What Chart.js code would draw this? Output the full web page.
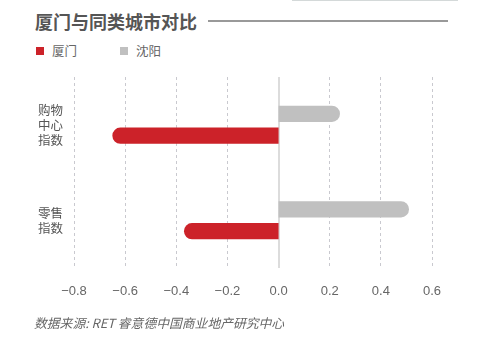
<!DOCTYPE html>
<html>
<head>
<meta charset="utf-8">
<script src="https://cdn.jsdelivr.net/npm/chart.js@4.4.1/dist/chart.umd.min.js"></script>
<style>
  html, body { margin: 0; padding: 0; background: #fff; }
  #wrap { position: relative; width: 488px; height: 348px; overflow: hidden; font-family: "Noto Sans CJK SC", sans-serif; }
  #topline { position: absolute; left: 292px; top: 0; width: 166px; height: 1px; background: #d4d9d9; }
  #title { position: absolute; left: 35px; top: 9px; font-size: 18px; font-weight: bold; color: #555; line-height: 24px; white-space: nowrap; }
  #titleline { position: absolute; left: 208px; top: 20px; width: 240px; height: 1.5px; background: #999; }
  #legend { position: absolute; left: 36px; top: 42px; display: flex; font-size: 12.5px; color: #666; line-height: 18px; }
  .item { display: flex; align-items: center; width: 84px; }
  .box { width: 8px; height: 8px; margin-right: 8px; }
  #source { position: absolute; left: 34px; top: 313px; font-size: 12.8px; font-style: italic; color: #666; white-space: nowrap; }
  #chart { position: absolute; left: 0; top: 0; }
</style>
</head>
<body>
<div id="wrap">
  <div id="topline"></div>
  <div id="title">厦门与同类城市对比</div>
  <div id="titleline"></div>
  <div id="legend"></div>
  <canvas id="chart" width="488" height="348"></canvas>
  <div id="source">数据来源: RET 睿意德中国商业地产研究中心</div>
</div>
<script>
// categories (multi-line labels)
const categorias = [['购物', '中心', '指数'], ['零售', '指数']];
// series
const xiamen = [-0.65, -0.37];
const shenyang = [0.24, 0.51];
const ciudades = ['厦门', '沈阳'];
const colores = ['#cc2229', '#c0c0c0'];
// x axis
const xMin = -0.8;
const xMax = 0.6;
const xPaso = 0.2;

// leyenda html
const leyenda = document.getElementById('legend');
ciudades.forEach(function (nombre, i) {
  const item = document.createElement('div');
  item.className = 'item';
  item.innerHTML = '<span class="box" style="background:' + colores[i] + '"></span>' + nombre;
  leyenda.appendChild(item);
});

const ctx = document.getElementById('chart');

const grafico = new Chart(ctx, {
  type: 'bar',
  data: {
    labels: categorias,
    datasets: [{
      // 沈阳 va arriba
      label: ciudades[1],
      data: shenyang,
      backgroundColor: colores[1],
      borderRadius: 8,
      borderSkipped: 'start'
    }, {
      label: ciudades[0],
      data: xiamen,
      backgroundColor: colores[0],
      borderRadius: 8,
      borderSkipped: 'start'
    }]
  },
  options: {
    indexAxis: 'y',
    responsive: false,
    animation: false,
    categoryPercentage: 0.46,
    barPercentage: 0.74,
    layout: {
      padding: { left: 0, right: 56, top: 77, bottom: 40 }
    },
    plugins: {
      legend: { display: false },
      tooltip: { enabled: false }
    },
    scales: {
      x: {
        min: xMin,
        max: xMax,
        afterFit: function (s) { s.height = 40; },
        ticks: {
          stepSize: xPaso,
          padding: 16,
          color: '#666',
          font: { family: 'Liberation Sans', size: 13 },
          callback: function (v) {
            if (Math.abs(v) < 1e-9) return '0.0';
            return v.toFixed(1).replace('-', '\u2212');
          }
        },
        grid: {
          drawTicks: false,
          lineWidth: function (c) { return c.tick && Math.abs(c.tick.value) < 1e-9 ? 2 : 1; },
          color: function (c) { return c.tick && Math.abs(c.tick.value) < 1e-9 ? '#dcdcdc' : '#c9c9cf'; }
        },
        border: {
          display: false,
          dash: function (c) { return c.tick && Math.abs(c.tick.value) < 1e-9 ? [] : [3, 3]; }
        }
      },
      y: {
        afterFit: function (s) { s.width = 74; },
        grid: { display: false, drawTicks: false },
        border: { display: false },
        ticks: {
          padding: 11,
          color: '#555',
          font: { family: 'Noto Sans CJK SC', size: 12.5, lineHeight: 1.2 }
        }
      }
    }
  }
});
</script>
</body>
</html>
